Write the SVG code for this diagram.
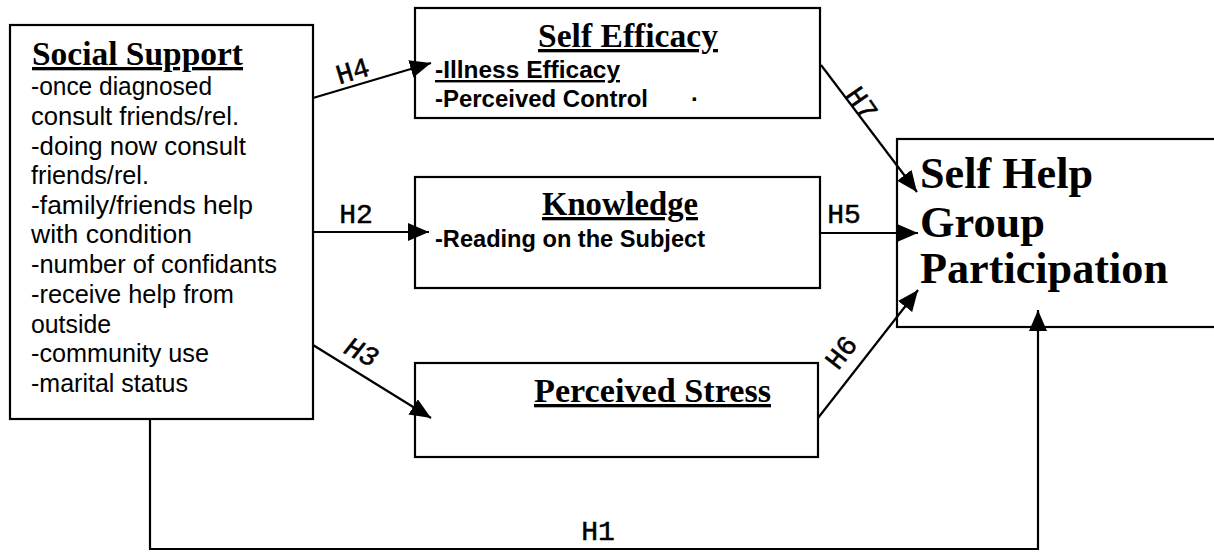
<svg xmlns="http://www.w3.org/2000/svg" width="1214" height="553" viewBox="0 0 1214 553">
<style>
.box{fill:#fff;stroke:#000;stroke-width:2.2}
.con{fill:none;stroke:#000;stroke-width:2.2}
.ttl{font-family:"Liberation Serif","Times New Roman",serif;font-weight:bold;font-size:33px;text-decoration:underline;fill:#000}
.body{font-family:"Liberation Sans",Arial,sans-serif;font-size:26px;fill:#000}
.sub{font-family:"Liberation Sans",Arial,sans-serif;font-weight:bold;font-size:24px;fill:#000}
.big{font-family:"Liberation Serif","Times New Roman",serif;font-weight:bold;font-size:44px;fill:#000}
.lbl{font-family:"Liberation Mono","Courier New",monospace;font-size:28px;fill:#000;stroke:#000;stroke-width:0.5;text-anchor:middle}
</style>
<defs>
<marker id="ah" markerUnits="userSpaceOnUse" markerWidth="24" markerHeight="20" refX="21" refY="9" orient="auto">
<path d="M0,0 L21,9 L0,18 z" fill="#000"/>
</marker>
</defs>

<g id="social-support">
<rect class="box" x="10" y="25" width="303" height="394"/>
<text class="ttl" x="32" y="65" textLength="211" lengthAdjust="spacingAndGlyphs">Social Support</text>
<text class="body" x="31" y="95" textLength="181" lengthAdjust="spacingAndGlyphs">-once diagnosed</text>
<text class="body" x="31" y="125" textLength="208" lengthAdjust="spacingAndGlyphs">consult friends/rel.</text>
<text class="body" x="31" y="155" textLength="215" lengthAdjust="spacingAndGlyphs">-doing now consult</text>
<text class="body" x="31" y="184" textLength="118" lengthAdjust="spacingAndGlyphs">friends/rel.</text>
<text class="body" x="31" y="214" textLength="222" lengthAdjust="spacingAndGlyphs">-family/friends help</text>
<text class="body" x="31" y="243" textLength="161" lengthAdjust="spacingAndGlyphs">with condition</text>
<text class="body" x="31" y="273" textLength="246" lengthAdjust="spacingAndGlyphs">-number of confidants</text>
<text class="body" x="31" y="303" textLength="203" lengthAdjust="spacingAndGlyphs">-receive help from</text>
<text class="body" x="31" y="333" textLength="80" lengthAdjust="spacingAndGlyphs">outside</text>
<text class="body" x="31" y="362" textLength="178" lengthAdjust="spacingAndGlyphs">-community use</text>
<text class="body" x="31" y="392" textLength="157" lengthAdjust="spacingAndGlyphs">-marital status</text>
</g>

<g id="self-efficacy">
<rect class="box" x="415" y="8" width="405" height="110"/>
<text class="ttl" x="538" y="47" textLength="180" lengthAdjust="spacingAndGlyphs">Self Efficacy</text>
<text class="sub" x="435" y="78" text-decoration="underline" textLength="185" lengthAdjust="spacingAndGlyphs">-Illness Efficacy</text>
<text class="sub" x="435" y="107" textLength="213" lengthAdjust="spacingAndGlyphs">-Perceived Control</text>
<text class="sub" x="691" y="101">.</text>
</g>

<g id="knowledge">
<rect class="box" x="415" y="177" width="405" height="111"/>
<text class="ttl" x="542" y="215" textLength="156" lengthAdjust="spacingAndGlyphs">Knowledge</text>
<text class="sub" x="435" y="247" textLength="270" lengthAdjust="spacingAndGlyphs">-Reading on the Subject</text>
</g>

<g id="perceived-stress">
<rect class="box" x="415" y="363" width="403" height="94"/>
<text class="ttl" x="534" y="402" textLength="237" lengthAdjust="spacingAndGlyphs">Perceived Stress</text>
</g>

<g id="self-help">
<rect class="box" x="897" y="139" width="330" height="188"/>
<text class="big" x="920" y="188" textLength="173" lengthAdjust="spacingAndGlyphs">Self Help</text>
<text class="big" x="920" y="237" textLength="125" lengthAdjust="spacingAndGlyphs">Group</text>
<text class="big" x="920" y="283" textLength="248" lengthAdjust="spacingAndGlyphs">Participation</text>
</g>

<g id="connectors">
<line class="con" x1="313" y1="98" x2="431" y2="63" marker-end="url(#ah)"/>
<line class="con" x1="313" y1="232" x2="429" y2="232" marker-end="url(#ah)"/>
<line class="con" x1="313" y1="345" x2="431" y2="418" marker-end="url(#ah)"/>
<line class="con" x1="821" y1="65" x2="917" y2="192" marker-end="url(#ah)"/>
<line class="con" x1="820" y1="233" x2="918" y2="233" marker-end="url(#ah)"/>
<line class="con" x1="818" y1="418" x2="918" y2="290" marker-end="url(#ah)"/>
<path class="con" d="M150,419 V549 H1038 V310" marker-end="url(#ah)"/>
<text class="lbl" x="353" y="80" transform="rotate(-17 353 72)">H4</text>
<text class="lbl" x="356" y="223">H2</text>
<text class="lbl" x="361" y="361" font-style="italic" transform="rotate(27 361 353)">H3</text>
<text class="lbl" x="861" y="112" transform="rotate(55 861 104)">H7</text>
<text class="lbl" x="844" y="223">H5</text>
<text class="lbl" x="842" y="361" transform="rotate(-52 842 353)">H6</text>
<text class="lbl" x="598" y="540">H1</text>
</g>
</svg>
